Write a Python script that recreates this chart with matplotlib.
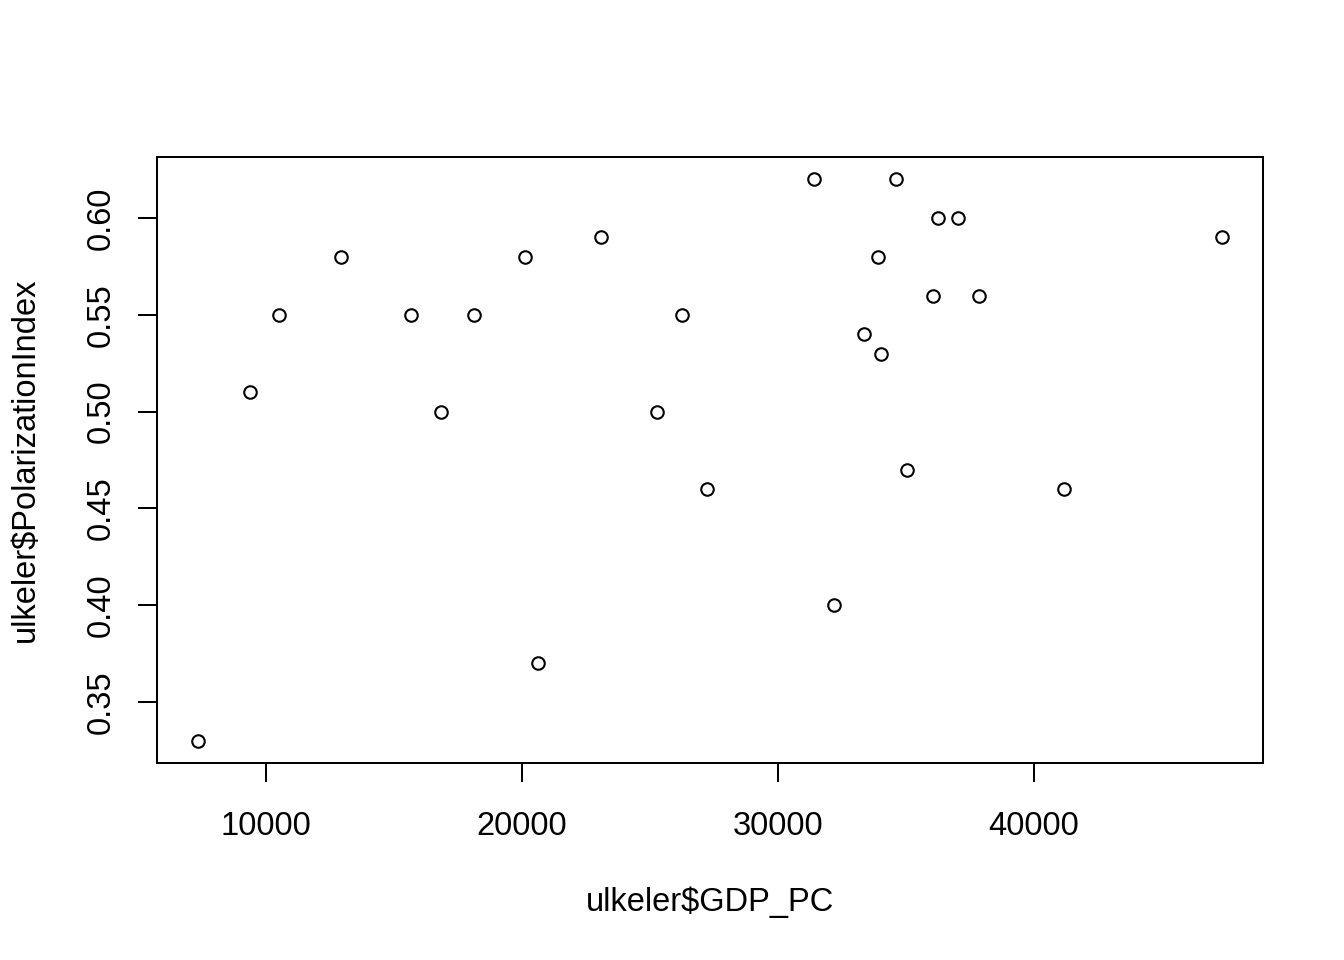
import matplotlib
matplotlib.use("Agg")
import matplotlib.pyplot as plt

gdp_pc = [7344, 9375, 10508, 12930, 15664, 16836, 18125, 20117, 20625, 23086,
          25273, 26250, 27227, 31406, 32188, 33359, 33906, 34023, 34609, 35039,
          36055, 36250, 37031, 37852, 41172, 47344]
polarization = [0.33, 0.51, 0.55, 0.58, 0.55, 0.50, 0.55, 0.58, 0.37, 0.59,
                0.50, 0.55, 0.46, 0.62, 0.40, 0.54, 0.58, 0.53, 0.62, 0.47,
                0.56, 0.60, 0.60, 0.56, 0.46, 0.59]
x_ticks = [10000, 20000, 30000, 40000]
y_ticks = [0.35, 0.40, 0.45, 0.50, 0.55, 0.60]
y_tick_labels = ["0.35", "0.40", "0.45", "0.50", "0.55", "0.60"]

plt.rcParams['font.family'] = ['Liberation Sans', 'DejaVu Sans']

fig = plt.figure(figsize=(13.44, 9.6), dpi=100)
ax = fig.add_axes([157/1344, 1 - 763/960, (1263-157)/1344, (763-157)/960])

ax.plot(gdp_pc, polarization, linestyle='none', marker='o', markersize=9,
        markerfacecolor='none', markeredgecolor='black', markeredgewidth=1.5)

def ext(vals):
    lo, hi = min(vals), max(vals)
    d = (hi - lo) * 0.04
    return lo - d, hi + d

ax.set_xlim(*ext(gdp_pc))
ax.set_ylim(*ext(polarization))

ax.set_xticks(x_ticks)
ax.set_xticklabels([str(v) for v in x_ticks])
ax.set_yticks(y_ticks)
ax.set_yticklabels(y_tick_labels, rotation=90, va='center')

for s in ax.spines.values():
    s.set_linewidth(1.45)
ax.tick_params(axis='both', direction='out', length=14, width=1.45, labelsize=23.5, colors='black')
ax.tick_params(axis='x', pad=20.5)
ax.tick_params(axis='y', pad=14.8)

ax.set_xlabel("ulkeler$GDP_PC", fontsize=23.5, labelpad=32)
ax.set_ylabel("ulkeler$PolarizationIndex", fontsize=23.5, labelpad=32.6)

fig.savefig("out.png", dpi=100)
